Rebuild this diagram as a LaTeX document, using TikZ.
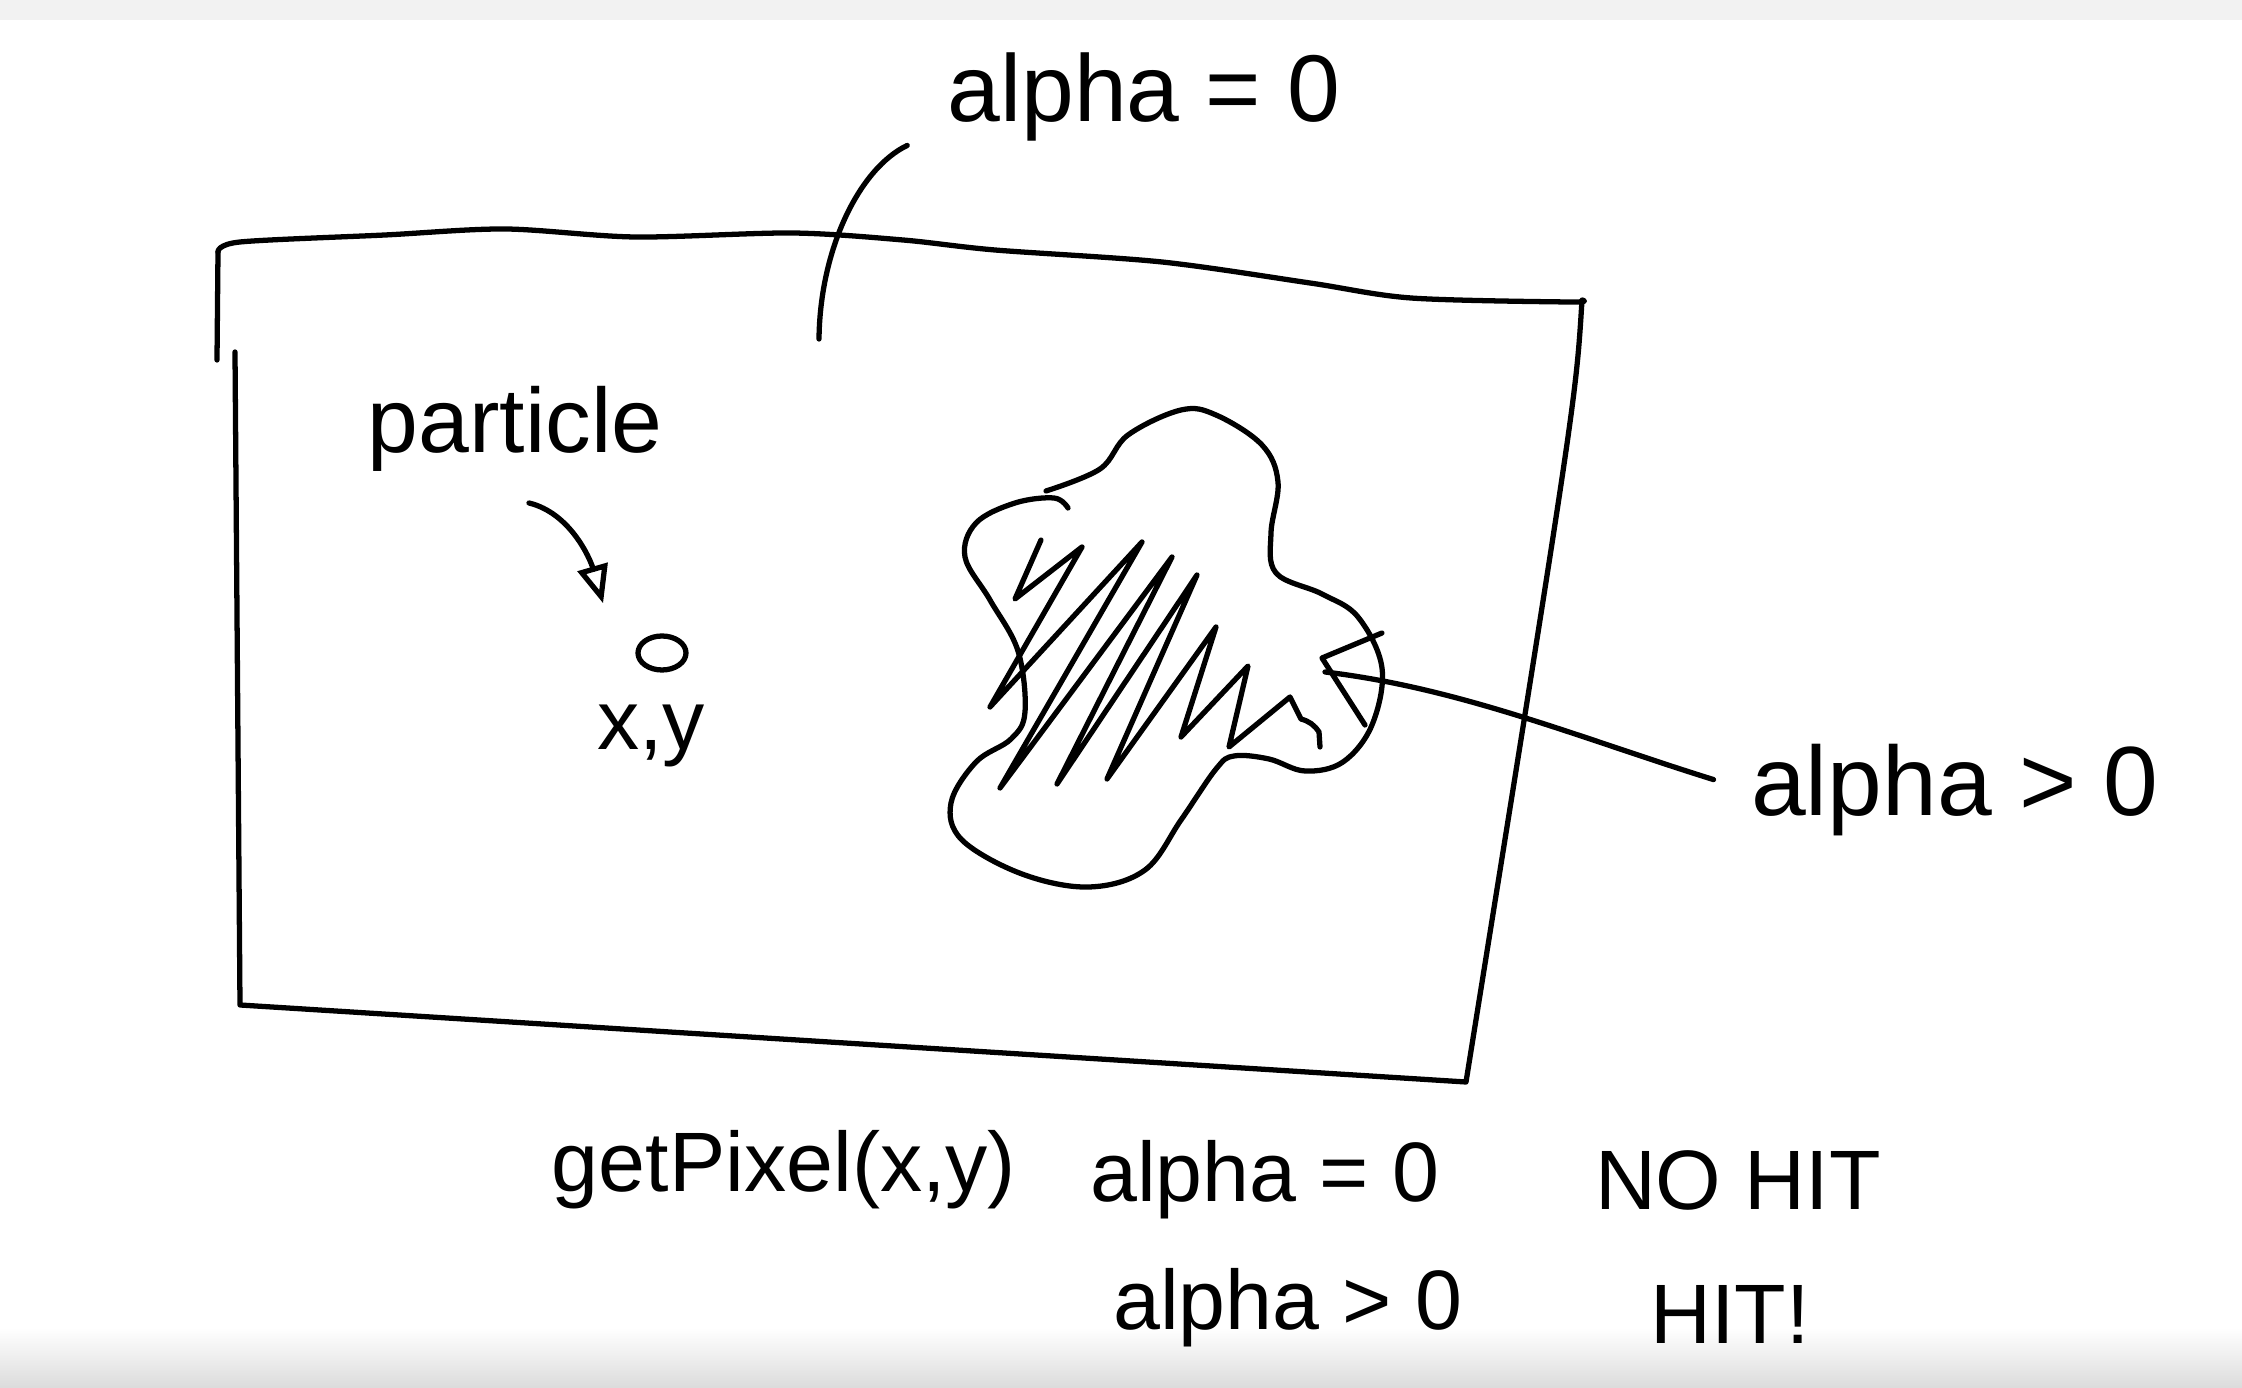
\documentclass[tikz,border=0pt]{standalone}
\usepackage{fontspec}
\setmainfont{Liberation Sans}
\usepackage{tikz}
\usetikzlibrary{arrows, shapes.geometric, positioning}
\tikzstyle{inkline} = [line width=1.5pt, line cap=round, line join=round]
\tikzstyle{pointer} = [inkline, ->, >=open triangle 45]
\tikzstyle{leader} = [inkline]
\tikzset{
  scrawl/.style={inner sep=1pt, font=\fontsize{#1}{#1}\selectfont},
  scrawl/.default=24
}

\begin{document}
\begin{tikzpicture}[node distance=1.5cm]
  \useasboundingbox (0,0) rectangle (22.42,13.88);
  \fill [white] (0,0) rectangle (22.42,13.88);
  \fill [black!5] (0,13.68) rectangle (22.42,13.88);
  \shade [top color=white, bottom color=black!14] (0,0) rectangle (22.42,0.6);

  \draw [inkline] plot[smooth, tension=0.5] coordinates {(2.18,11.36) (2.40,11.46) (3.85,11.53) (5.05,11.59) (6.35,11.51) (7.92,11.55) (9.03,11.48) (9.95,11.38) (11.62,11.26) (13.10,11.05) (14.11,10.90) (15.69,10.86) (15.82,10.88)}
    .. controls (15.76,9.9) .. (14.66,3.06) -- (2.40,3.83) -- (2.35,10.36);
  \draw [inkline] (2.18,11.36) -- (2.17,10.28);

  \draw [inkline] plot[smooth, tension=0.6] coordinates {(10.46,8.97) (11.00,9.19) (11.28,9.53) (11.81,9.78) (12.16,9.73) (12.62,9.43) (12.78,9.06) (12.71,8.55) (12.76,8.15) (13.22,7.94) (13.58,7.71) (13.82,7.20) (13.72,6.63) (13.43,6.26) (13.05,6.17) (12.69,6.29) (12.34,6.32) (12.16,6.19) (11.81,5.68) (11.45,5.18) (10.89,5.01) (10.22,5.14) (9.62,5.48) (9.51,5.85) (9.76,6.26) (10.11,6.49) (10.25,6.76) (10.18,7.37) (9.90,7.88) (9.65,8.31) (9.76,8.65) (10.15,8.85) (10.54,8.90) (10.68,8.80)};
  \draw [inkline] (10.41,8.48) -- (10.15,7.89) -- (10.82,8.41) -- (9.90,6.81) -- (11.42,8.46) -- (10.00,6.00) -- (11.72,8.31) -- (10.57,6.04) -- (11.97,8.13) -- (11.07,6.09) -- (12.16,7.61) -- (11.81,6.51) -- (12.48,7.22) -- (12.29,6.41) -- (12.90,6.91) -- (13.01,6.69) to[bend left=20] (13.19,6.56) -- (13.20,6.41);
  \draw [inkline] (13.82,7.55) -- (13.22,7.30) -- (13.65,6.63);

  \node (lblzero) [scrawl=27] at (11.44,12.91) {alpha = 0};
  \coordinate (bgmark) at (8.19,10.49);
  \draw [leader] ([xshift=-0.36cm]lblzero.south west) .. controls (8.6,12.2) and (8.2,11.4) .. (bgmark);

  \node (lblparticle) [scrawl=26] at (5.15,9.59) {particle};
  \node (dot) [ellipse, draw, inkline, minimum width=0.48cm, minimum height=0.34cm, inner sep=0pt] at (6.62,7.35) {};
  \node (lblxy) [scrawl] at (6.51,6.52) {x,y};
  \coordinate (tail) at (5.29,8.85);
  \coordinate (tip) at (6.03,7.85);
  \draw [pointer] (tail) .. controls (5.7,8.75) and (5.9,8.3) .. (tip);

  \node (lblpos) [scrawl=28] at (19.55,5.98) {alpha > 0};
  \coordinate (blobmark) at (13.25,7.16);
  \draw [leader, shorten >=0.35cm] (blobmark) .. controls (14.6,7.0) and (15.8,6.5) .. (lblpos.west);

  \node (getpix) [scrawl] at (7.84,2.18) {getPixel(x,y)};
  \node (gotzero) [scrawl, right of=getpix, xshift=3.31cm, yshift=-0.1cm] {alpha = 0};
  \node (nohit) [scrawl, right of=gotzero, xshift=3.23cm] {NO HIT};
  \node (gotpos) [scrawl, below of=gotzero, xshift=0.23cm, yshift=0.22cm] {alpha > 0};
  \node (hit) [scrawl, below of=nohit, xshift=-0.08cm, yshift=0.16cm] {HIT!};
\end{tikzpicture}
\end{document}
